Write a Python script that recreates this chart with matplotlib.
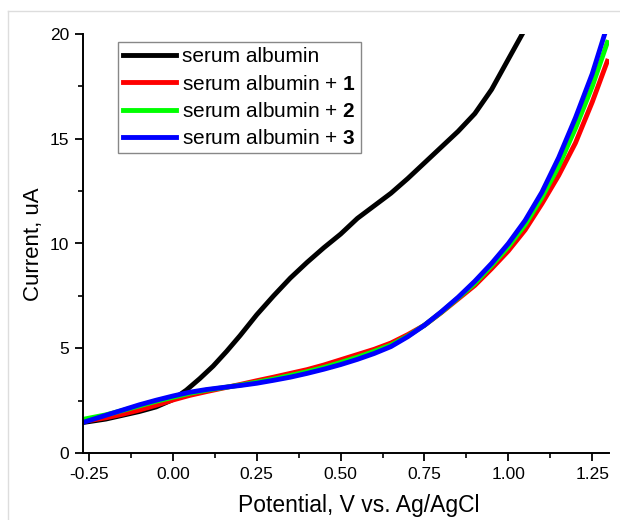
import numpy as np
import matplotlib
matplotlib.use("Agg")
import matplotlib.pyplot as plt
from matplotlib.lines import Line2D
from matplotlib.ticker import MultipleLocator

plt.rcParams['font.family'] = ['Liberation Sans', 'DejaVu Sans']
plt.rcParams['mathtext.fontset'] = 'custom'
plt.rcParams['mathtext.bf'] = 'Liberation Sans:bold'
plt.rcParams['mathtext.rm'] = 'Liberation Sans'

# serum albumin alone
x_sa = [-0.27, -0.2, -0.15, -0.1, -0.05, 0.0, 0.04, 0.08, 0.12, 0.16, 0.2, 0.25, 0.3,
        0.35, 0.4, 0.45, 0.5, 0.55, 0.6, 0.65, 0.7, 0.75, 0.8, 0.85, 0.9, 0.95, 1.0, 1.045]
y_sa = [1.45, 1.62, 1.8, 1.98, 2.2, 2.55, 3.0, 3.55, 4.15, 4.85, 5.6, 6.6, 7.5,
        8.35, 9.1, 9.8, 10.45, 11.2, 11.8, 12.4, 13.1, 13.85, 14.6, 15.35, 16.2, 17.35, 18.8, 20.1]

# serum albumin + compounds 1, 2, 3
x_c = [-0.27, -0.2, -0.15, -0.1, -0.05, 0.0, 0.05, 0.1, 0.15, 0.2, 0.25, 0.3, 0.35,
       0.4, 0.45, 0.5, 0.55, 0.6, 0.65, 0.7, 0.75, 0.8, 0.85, 0.9, 0.95, 1.0, 1.05,
       1.1, 1.15, 1.2, 1.25, 1.295]
y_1 = [1.5, 1.68, 1.85, 2.05, 2.28, 2.53, 2.75, 2.93, 3.1, 3.27, 3.45, 3.62, 3.8,
       3.98, 4.2, 4.45, 4.7, 4.95, 5.25, 5.65, 6.1, 6.7, 7.35, 8.0, 8.8, 9.65, 10.65,
       11.9, 13.25, 14.8, 16.75, 18.7]
y_2 = [1.6, 1.82, 2.03, 2.25, 2.47, 2.66, 2.85, 3.0, 3.12, 3.24, 3.38, 3.53, 3.7,
       3.88, 4.08, 4.32, 4.57, 4.85, 5.15, 5.58, 6.1, 6.72, 7.4, 8.1, 8.95, 9.85, 10.9,
       12.2, 13.7, 15.5, 17.5, 19.6]
y_3 = [1.45, 1.8, 2.05, 2.3, 2.52, 2.72, 2.9, 3.03, 3.13, 3.22, 3.33, 3.47, 3.62,
       3.8, 4.0, 4.22, 4.47, 4.75, 5.08, 5.55, 6.1, 6.74, 7.43, 8.2, 9.05, 10.0, 11.1,
       12.45, 14.1, 16.0, 18.1, 20.4]

labels = ['serum albumin', 'serum albumin + $\\mathbf{1}$',
          'serum albumin + $\\mathbf{2}$', 'serum albumin + $\\mathbf{3}$']
colors = ['#000000', '#ff0000', '#00ff00', '#0000ff']

fig = plt.figure(figsize=(6.2, 5.2), dpi=100)
ax = fig.add_axes([83/620, 67/520, 526/620, 419/520])

ax.plot(x_sa, y_sa, color=colors[0], lw=3.5, label=labels[0])
ax.plot(x_c, y_1, color=colors[1], lw=3.5, label=labels[1])
ax.plot(x_c, y_2, color=colors[2], lw=3.5, label=labels[2])
ax.plot(x_c, y_3, color=colors[3], lw=3.5, label=labels[3])

ax.set_xlim(-0.268, 1.30)
ax.set_ylim(0, 20)
ax.xaxis.set_minor_locator(MultipleLocator(0.125))
ax.yaxis.set_major_locator(MultipleLocator(5))
ax.yaxis.set_minor_locator(MultipleLocator(2.5))
ax.set_xticks([-0.25, 0, 0.25, 0.5, 0.75, 1.0, 1.25])
ax.set_xticklabels(['-0.25', '0.00', '0.25', '0.50', '0.75', '1.00', '1.25'])

for s in ['top', 'right']:
    ax.spines[s].set_visible(False)
for s in ['left', 'bottom']:
    ax.spines[s].set_linewidth(1.4)
ax.tick_params(which='major', direction='out', length=6, width=1.3, labelsize=12.5, pad=4)
ax.tick_params(which='minor', direction='out', length=3.5, width=1.2)

ax.set_xlabel('Potential, V vs. Ag/AgCl', fontsize=16.5)
ax.xaxis.set_label_coords(0.525, -0.098)
ax.xaxis.label.set_va('top')
ax.set_ylabel('Current, uA', fontsize=16)
ax.yaxis.set_label_coords(-0.074, 0.499)

leg = ax.legend(loc='upper left', bbox_to_anchor=(0.067, 0.981), borderaxespad=0,
                fontsize=15, handlelength=2.5, handletextpad=0.3, labelspacing=0.4,
                borderpad=0.25, fancybox=False, framealpha=1)
leg.get_frame().set_edgecolor('#888888')
leg.get_frame().set_linewidth(1.0)

# thin light frame around the picture
fig.add_artist(Line2D([8/620, 8/620], [0, 509/520], color='#dddddd', lw=1))
fig.add_artist(Line2D([8/620, 1], [509/520, 509/520], color='#dddddd', lw=1))

fig.savefig('out.png', dpi=100)
